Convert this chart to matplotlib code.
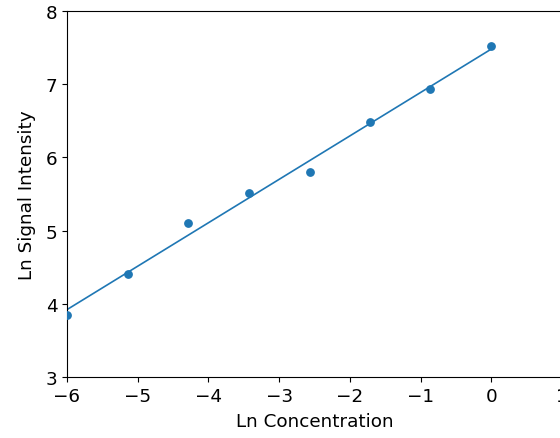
import numpy as np
import matplotlib
matplotlib.use("Agg")
import matplotlib.pyplot as plt

# ln concentration / ln signal values
ln_conc = [-6.0, -5.14, -4.29, -3.43, -2.57, -1.71, -0.86, 0.0]
ln_signal = [3.85, 4.41, 5.10, 5.51, 5.80, 6.48, 6.93, 7.52]

x = np.array(ln_conc)
y = np.array(ln_signal)
slope, intercept = np.polyfit(x, y, 1)

fig = plt.figure(figsize=(5.6, 4.39), dpi=100)
ax = fig.add_axes([0.1196, 0.139, 0.884, 0.8337])

ax.scatter(x, y, s=28, color="#1f77b4", zorder=3)
ax.plot(x, slope * x + intercept, color="#1f77b4", linewidth=1.2)

ax.set_xlim(-6, 1)
ax.set_ylim(3, 8)
ax.set_xticks(range(-6, 2))
ax.set_yticks(range(3, 9))
ax.tick_params(labelsize=13.2)
ax.set_xlabel("Ln Concentration", fontsize=13.2, labelpad=5)
ax.set_ylabel("Ln Signal Intensity", fontsize=13.2, labelpad=7)

fig.savefig("out.png", dpi=100)
